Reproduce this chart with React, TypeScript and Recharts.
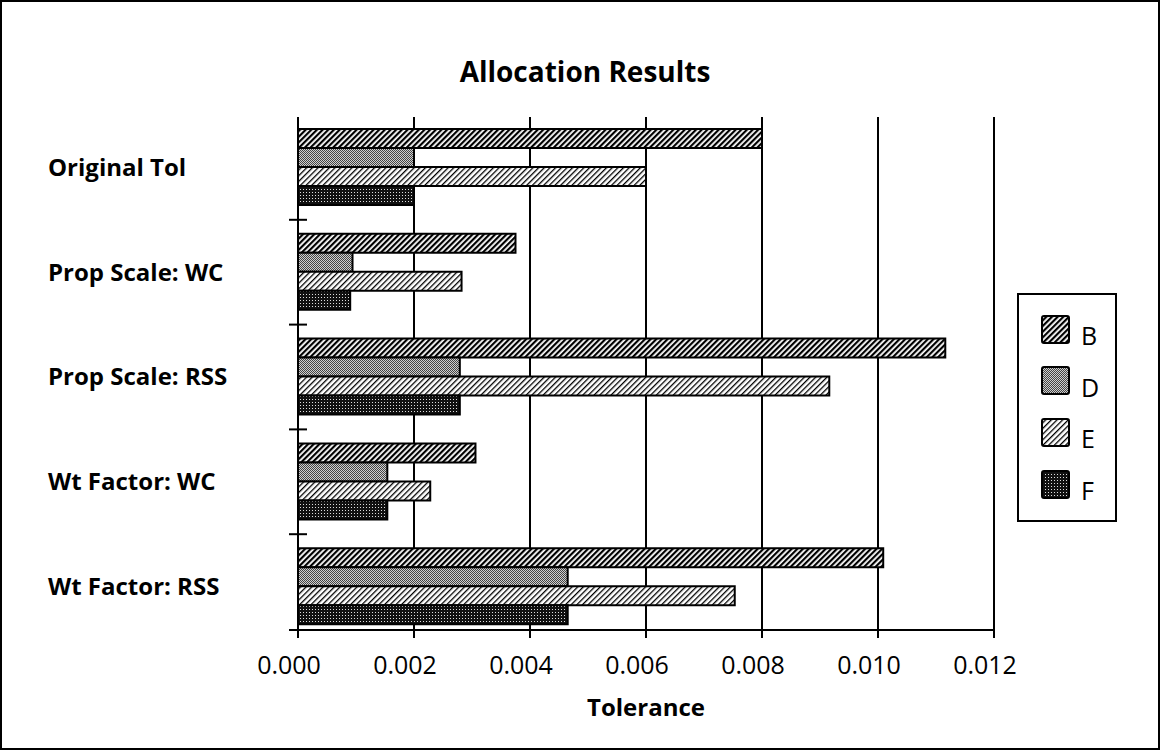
import React from 'react';
import { BarChart, Bar, XAxis, YAxis, CartesianGrid, Legend, Label } from 'recharts';

const categories = ['Original Tol', 'Prop Scale: WC', 'Prop Scale: RSS', 'Wt Factor: WC', 'Wt Factor: RSS'];
const seriesB = [0.008, 0.00375, 0.01116, 0.00306, 0.01009];
const seriesD = [0.002, 0.00094, 0.00279, 0.00154, 0.00465];
const seriesE = [0.006, 0.00282, 0.00916, 0.00228, 0.00753];
const seriesF = [0.002, 0.0009, 0.00279, 0.00154, 0.00465];
const xTicks = [0, 0.002, 0.004, 0.006, 0.008, 0.01, 0.012];
const seriesNames = ['B', 'D', 'E', 'F'];

const data = categories.map((name, i) => ({
  name,
  B: seriesB[i],
  D: seriesD[i],
  E: seriesE[i],
  F: seriesF[i],
}));

const FONT = '"Open Sans", "Noto Sans", sans-serif';
const CHART_W = 1156;
const CHART_H = 746;
const MARGIN = { top: 115, right: 164, bottom: 28, left: 16 };
const Y_AXIS_W = 280;
const X_AXIS_H = 90;
const AXIS_X = MARGIN.left + Y_AXIS_W;
const PLOT_H = CHART_H - MARGIN.top - MARGIN.bottom - X_AXIS_H;
const PLOT_BOTTOM = MARGIN.top + PLOT_H;
const PAD_TOP = -2;
const PAD_BOTTOM = -9;
const BAND = (PLOT_H - PAD_TOP - PAD_BOTTOM) / categories.length;
const LABEL_X = 46;

const fills: Record<string, string> = {
  B: 'url(#patB)',
  D: 'url(#patD)',
  E: 'url(#patE)',
  F: 'url(#patF)',
};

const CategoryTick = (props: any) => {
  const { y, payload, index } = props;
  const last = index === categories.length - 1;
  const markY = last ? PLOT_BOTTOM : y + BAND / 2;
  return (
    <g>
      <text
        x={LABEL_X}
        y={y}
        dy="0.35em"
        textAnchor="start"
        fontFamily={FONT}
        fontWeight={700}
        fontSize={24}
        fill="#000"
      >
        {payload.value}
      </text>
      <line x1={AXIS_X - 9} x2={AXIS_X + 9} y1={markY} y2={markY} stroke="#000" strokeWidth={2} />
    </g>
  );
};

const ValueTick = (props: any) => {
  const { x, y, payload } = props;
  return (
    <text
      x={x - 9}
      y={y}
      dy="0.71em"
      textAnchor="middle"
      fontFamily={FONT}
      fontSize={25}
      fill="#000"
    >
      {Number(payload.value).toFixed(3)}
    </text>
  );
};

const LegendBox = () => (
  <div
    style={{
      width: 100,
      height: 229,
      border: '2px solid #000',
      boxSizing: 'border-box',
      background: '#fff',
      paddingTop: 9,
    }}
  >
    {seriesNames.map((s) => (
      <div key={s} style={{ display: 'flex', alignItems: 'center', height: 51.6 }}>
        <svg width={30} height={30} style={{ marginLeft: 22, display: 'block' }}>
          <rect x={1} y={1} width={27} height={27} rx={2} fill={fills[s]} stroke="#000" strokeWidth={2} />
        </svg>
        <span
          style={{
            fontFamily: FONT,
            fontSize: 25,
            marginLeft: 10,
            marginTop: 12,
            color: '#000',
            lineHeight: '25px',
          }}
        >
          {s}
        </span>
      </div>
    ))}
  </div>
);

export default function App() {
  return (
    <div>
      <style>{'body{margin:0;background:#fff;}'}</style>
      <div
        style={{
          position: 'relative',
          width: 1160,
          height: 750,
          border: '2px solid #000',
          boxSizing: 'border-box',
          background: '#fff',
        }}
      >
        <div
          style={{
            position: 'absolute',
            left: 0,
            width: 1156,
            top: 49,
            textAlign: 'center',
            fontFamily: FONT,
            fontWeight: 700,
            fontSize: 28,
            lineHeight: '40px',
            color: '#000',
            paddingLeft: 10,
            boxSizing: 'border-box',
          }}
        >
          Allocation Results
        </div>
        <BarChart
          width={CHART_W}
          height={CHART_H}
          data={data}
          layout="vertical"
          margin={MARGIN}
          barGap={0}
          barSize={19}
        >
          <defs>
            <pattern id="patB" width="4" height="4" patternUnits="userSpaceOnUse" patternTransform="rotate(45)">
              <rect width="4" height="4" fill="#fff" />
              <rect width="2.2" height="4" fill="#000" />
            </pattern>
            <pattern id="patE" width="4" height="4" patternUnits="userSpaceOnUse" patternTransform="rotate(45)">
              <rect width="4" height="4" fill="#fff" />
              <rect width="1.3" height="4" fill="#000" />
            </pattern>
            <pattern id="patD" width="2" height="2" patternUnits="userSpaceOnUse">
              <rect width="2" height="2" fill="#cfcfcf" />
              <rect width="1" height="1" fill="#444" />
              <rect x="1" y="1" width="1" height="1" fill="#444" />
            </pattern>
            <pattern id="patF" width="3" height="3" patternUnits="userSpaceOnUse">
              <rect width="3" height="3" fill="#111" />
              <rect x="1" y="1" width="1" height="1" fill="#ddd" />
            </pattern>
          </defs>
          <CartesianGrid horizontal={false} vertical stroke="#000" strokeWidth={2} />
          <XAxis
            type="number"
            domain={[0, 0.012]}
            ticks={xTicks}
            height={X_AXIS_H}
            axisLine={{ stroke: '#000', strokeWidth: 2 }}
            tickLine={{ stroke: '#000', strokeWidth: 2 }}
            tickSize={8}
            tickMargin={18}
            tick={<ValueTick />}
            interval={0}
          >
            <Label
              value="Tolerance"
              position="insideBottom"
              offset={4}
              style={{ fontFamily: FONT, fontWeight: 700, fontSize: 24, fill: '#000' }}
            />
          </XAxis>
          <YAxis
            type="category"
            dataKey="name"
            width={Y_AXIS_W}
            padding={{ top: PAD_TOP, bottom: PAD_BOTTOM }}
            axisLine={{ stroke: '#000', strokeWidth: 2 }}
            tickLine={false}
            tick={<CategoryTick />}
            interval={0}
          />
          <Legend
            layout="vertical"
            align="center"
            verticalAlign="middle"
            content={<LegendBox />}
            wrapperStyle={{ left: 1015, top: 291, width: 100, height: 229 }}
          />
          {seriesNames.map((s) => (
            <Bar
              key={s}
              dataKey={s}
              fill={fills[s]}
              stroke="#000"
              strokeWidth={2}
              isAnimationActive={false}
            />
          ))}
        </BarChart>
      </div>
    </div>
  );
}
